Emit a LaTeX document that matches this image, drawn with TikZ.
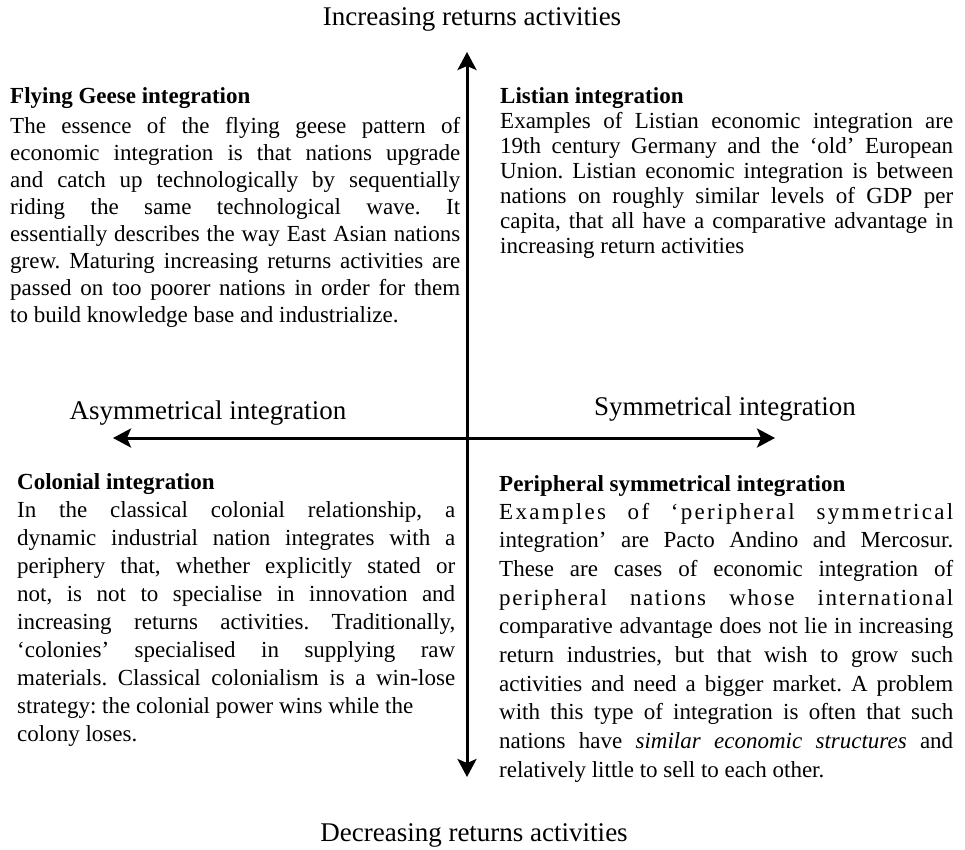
\documentclass[tikz,border=0pt]{standalone}
\usepackage{fontspec}
\setmainfont{Liberation Serif}
\usetikzlibrary{arrows.meta}
\frenchspacing
\newcommand{\parsetup}{\frenchspacing\tolerance=10000\hbadness=10000\hyphenpenalty=10000\exhyphenpenalty=10000}
\begin{document}
\begin{tikzpicture}[x=1pt,y=-1pt,
  head/.style={anchor=base west, inner sep=0pt, font=\bfseries\fontsize{23}{27}\selectfont},
  body/.style={anchor=base west, inner sep=0pt, align=justify},
  axislabel/.style={anchor=base, inner sep=0pt, font=\fontsize{27}{32}\selectfont},
  axisline/.style={line width=3pt, {Stealth[length=18pt,width=19pt,inset=4pt]}-{Stealth[length=18pt,width=19pt,inset=4pt]}}
]
\useasboundingbox (0,0) rectangle (965,849);

% axes
\coordinate (top) at (467,52);
\coordinate (bottom) at (467,777);
\coordinate (left) at (113,438);
\coordinate (right) at (775,438);
\draw[axisline] (top) -- (bottom);
\draw[axisline] (left) -- (right);

% axis labels
\node[axislabel] (inc) at (472,25) {Increasing returns activities};
\node[axislabel] (dec) at (474,841) {Decreasing returns activities};
\node[axislabel] (asym) at (208,419) {Asymmetrical integration};
\node[axislabel] (sym) at (725,415) {Symmetrical integration};

% top left
\node[head] (tlh) at (10,103) {Flying Geese integration};
\node[body, text width=450pt, font=\parsetup\fontsize{23}{27}\selectfont] (tlb) at (10,133) {The essence of the flying geese pattern of\linebreak
economic integration is that nations upgrade\linebreak
and catch up technologically by sequentially\linebreak
riding the same technological wave. It\linebreak
essentially describes the way East Asian nations\linebreak
grew. Maturing increasing returns activities are\linebreak
passed on too poorer nations in order for them\linebreak
to build knowledge base and industrialize.};

% top right
\node[head] (trh) at (500,103) {Listian integration};
\node[body, text width=453pt, font=\parsetup\fontsize{23}{25}\selectfont] (trb) at (500,128) {Examples of Listian economic integration are\linebreak
19th century Germany and the ‘old’ European\linebreak
Union. Listian economic integration is between\linebreak
nations on roughly similar levels of GDP per\linebreak
capita, that all have a comparative advantage in\linebreak
increasing return activities};

% bottom left
\node[head] (blh) at (17,489) {Colonial integration};
\node[body, text width=438pt, font=\parsetup\fontsize{23}{28.1}\selectfont] (blb) at (17,517) {In the classical colonial relationship, a\linebreak
dynamic industrial nation integrates with a\linebreak
periphery that, whether explicitly stated or\linebreak
not, is not to specialise in innovation and\linebreak
increasing returns activities. Traditionally,\linebreak
‘colonies’ specialised in supplying raw\linebreak
materials. Classical colonialism is a win-lose\linebreak
strategy: the colonial power wins while the\hfil\break
colony loses.};

% bottom right
\node[head] (brh) at (499,491) {Peripheral symmetrical integration};
\node[body, text width=454pt, font=\parsetup\fontsize{23}{28.7}\selectfont] (brb) at (499,519) {{\addfontfeature{LetterSpace=10}Examples of ‘peripheral symmetrical}\linebreak
integration’ are Pacto Andino and Mercosur.\linebreak
These are cases of economic integration of\linebreak
{\addfontfeature{LetterSpace=7}peripheral nations whose international}\linebreak
comparative advantage does not lie in increasing\linebreak
return industries, but that wish to grow such\linebreak
activities and need a bigger market. A problem\linebreak
with this type of integration is often that such\linebreak
nations have \textit{similar economic structures} and\linebreak
relatively little to sell to each other.};
\end{tikzpicture}
\end{document}
